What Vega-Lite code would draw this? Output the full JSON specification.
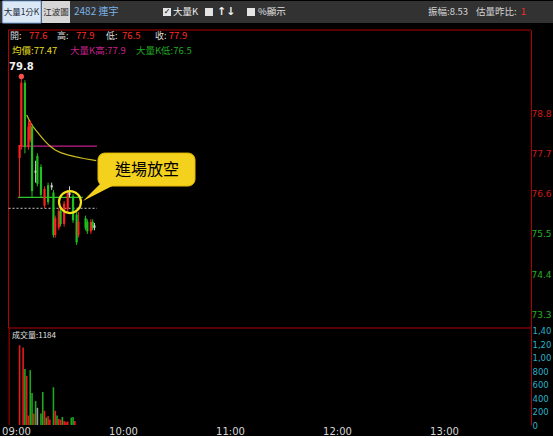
{
  "$schema": "https://vega.github.io/schema/vega-lite/v6.json",
  "background": "#000000",
  "padding": 0,
  "bounds": "flush",
  "spacing": 7,
  "data": {"values": [{}]},
  "config": {
    "view": {"stroke": null},
    "font": "Noto Sans CJK TC",
    "axis": {"grid": false, "labelFont": "DejaVu Sans", "labelOverlap": false}
  },
  "datasets": {
    "candles": [
      {"t": "2020-01-02T09:02", "o": 77.6, "h": 77.9, "l": 76.5, "c": 77.9},
      {"t": "2020-01-02T09:03", "o": 77.9, "h": 79.8, "l": 77.8, "c": 79.6},
      {"t": "2020-01-02T09:05", "o": 79.6, "h": 79.7, "l": 77.7, "c": 77.9},
      {"t": "2020-01-02T09:07", "o": 77.9, "h": 78.6, "l": 77.8, "c": 78.4},
      {"t": "2020-01-02T09:08", "o": 78.1, "h": 78.6, "l": 78.0, "c": 78.5},
      {"t": "2020-01-02T09:09", "o": 78.4, "h": 78.5, "l": 76.5, "c": 76.7},
      {"t": "2020-01-02T09:11", "o": 77.2, "h": 77.5, "l": 76.9, "c": 77.2},
      {"t": "2020-01-02T09:12", "o": 77.6, "h": 77.7, "l": 76.8, "c": 76.9},
      {"t": "2020-01-02T09:14", "o": 77.3, "h": 77.4, "l": 76.5, "c": 76.6},
      {"t": "2020-01-02T09:16", "o": 76.3, "h": 76.8, "l": 76.2, "c": 76.7},
      {"t": "2020-01-02T09:18", "o": 76.8, "h": 76.9, "l": 76.3, "c": 76.4},
      {"t": "2020-01-02T09:20", "o": 76.8, "h": 76.9, "l": 76.7, "c": 76.8},
      {"t": "2020-01-02T09:21", "o": 76.6, "h": 76.7, "l": 75.4, "c": 75.5},
      {"t": "2020-01-02T09:22", "o": 75.5, "h": 76.0, "l": 75.4, "c": 75.9},
      {"t": "2020-01-02T09:24", "o": 75.7, "h": 76.2, "l": 75.6, "c": 76.1},
      {"t": "2020-01-02T09:25", "o": 76.1, "h": 76.2, "l": 75.7, "c": 75.8},
      {"t": "2020-01-02T09:27", "o": 75.8, "h": 76.4, "l": 75.7, "c": 76.3},
      {"t": "2020-01-02T09:29", "o": 76.2, "h": 76.7, "l": 76.1, "c": 76.6},
      {"t": "2020-01-02T09:30", "o": 76.6, "h": 76.8, "l": 76.5, "c": 76.6},
      {"t": "2020-01-02T09:32", "o": 76.5, "h": 76.6, "l": 75.8, "c": 75.9},
      {"t": "2020-01-02T09:34", "o": 76.0, "h": 76.1, "l": 75.2, "c": 75.3},
      {"t": "2020-01-02T09:35", "o": 75.5, "h": 76.1, "l": 75.4, "c": 75.8},
      {"t": "2020-01-02T09:39", "o": 75.9, "h": 76.0, "l": 75.6, "c": 75.7},
      {"t": "2020-01-02T09:40", "o": 75.8, "h": 75.9, "l": 75.5, "c": 75.6},
      {"t": "2020-01-02T09:42", "o": 75.6, "h": 75.9, "l": 75.5, "c": 75.8},
      {"t": "2020-01-02T09:43", "o": 75.8, "h": 75.9, "l": 75.6, "c": 75.7},
      {"t": "2020-01-02T09:44", "o": 75.7, "h": 75.8, "l": 75.6, "c": 75.7}
    ],
    "vol": [
      {"t": "2020-01-02T09:02", "v": 1184, "dir": "up"},
      {"t": "2020-01-02T09:04", "v": 1150, "dir": "up"},
      {"t": "2020-01-02T09:05", "v": 830, "dir": "down"},
      {"t": "2020-01-02T09:06", "v": 730, "dir": "up"},
      {"t": "2020-01-02T09:07", "v": 140, "dir": "up"},
      {"t": "2020-01-02T09:08", "v": 815, "dir": "down"},
      {"t": "2020-01-02T09:09", "v": 475, "dir": "down"},
      {"t": "2020-01-02T09:10", "v": 170, "dir": "up"},
      {"t": "2020-01-02T09:11", "v": 355, "dir": "down"},
      {"t": "2020-01-02T09:12", "v": 255, "dir": "flat"},
      {"t": "2020-01-02T09:14", "v": 170, "dir": "down"},
      {"t": "2020-01-02T09:15", "v": 490, "dir": "down"},
      {"t": "2020-01-02T09:16", "v": 210, "dir": "up"},
      {"t": "2020-01-02T09:17", "v": 110, "dir": "down"},
      {"t": "2020-01-02T09:18", "v": 130, "dir": "up"},
      {"t": "2020-01-02T09:19", "v": 80, "dir": "up"},
      {"t": "2020-01-02T09:21", "v": 560, "dir": "down"},
      {"t": "2020-01-02T09:22", "v": 210, "dir": "up"},
      {"t": "2020-01-02T09:23", "v": 140, "dir": "down"},
      {"t": "2020-01-02T09:24", "v": 90, "dir": "up"},
      {"t": "2020-01-02T09:25", "v": 80, "dir": "up"},
      {"t": "2020-01-02T09:26", "v": 120, "dir": "down"},
      {"t": "2020-01-02T09:27", "v": 60, "dir": "up"},
      {"t": "2020-01-02T09:28", "v": 50, "dir": "up"},
      {"t": "2020-01-02T09:29", "v": 50, "dir": "up"},
      {"t": "2020-01-02T09:31", "v": 110, "dir": "down"},
      {"t": "2020-01-02T09:32", "v": 120, "dir": "down"},
      {"t": "2020-01-02T09:33", "v": 60, "dir": "up"}
    ],
    "avg": [
      {"t": "2020-01-02T09:06", "p": 78.75},
      {"t": "2020-01-02T09:08", "p": 78.55},
      {"t": "2020-01-02T09:10", "p": 78.4},
      {"t": "2020-01-02T09:13", "p": 78.22},
      {"t": "2020-01-02T09:16", "p": 78.05},
      {"t": "2020-01-02T09:19", "p": 77.9},
      {"t": "2020-01-02T09:22", "p": 77.79},
      {"t": "2020-01-02T09:25", "p": 77.72},
      {"t": "2020-01-02T09:29", "p": 77.66},
      {"t": "2020-01-02T09:33", "p": 77.61},
      {"t": "2020-01-02T09:38", "p": 77.56},
      {"t": "2020-01-02T09:45", "p": 77.5}
    ],
    "quote": [
      {"k": "開", "v": 77.6},
      {"k": "高", "v": 77.9},
      {"k": "低", "v": 76.5},
      {"k": "收", "v": 77.9},
      {"k": "均價", "v": 77.47},
      {"k": "大量K高", "v": 77.9},
      {"k": "大量K低", "v": 76.5}
    ]
  },
  "vconcat": [
    {
      "width": 553,
      "height": 22,
      "view": {"fill": "#323232", "stroke": null},
      "layer": [
        {
          "mark": {"type": "rect", "fill": "#dbe8f6", "stroke": "#7aa6d8", "strokeWidth": 1},
          "encoding": {
            "x": {"datum": {"year": 2020, "month": 1, "date": 2, "hours": 8, "minutes": 52, "seconds": 30}, "type": "temporal", "scale": {"domain": [{"year": 2020, "month": 1, "date": 2, "hours": 8, "minutes": 51, "seconds": 2}, {"year": 2020, "month": 1, "date": 2, "hours": 14, "minutes": 1, "seconds": 8}]}, "axis": null},
            "x2": {"datum": {"year": 2020, "month": 1, "date": 2, "hours": 9, "minutes": 14, "seconds": 1}}
          }
        },
        {
          "mark": {"type": "rect", "fill": "#d6d6d6"},
          "encoding": {
            "x": {"datum": {"year": 2020, "month": 1, "date": 2, "hours": 9, "minutes": 14, "seconds": 35}, "type": "temporal", "axis": null},
            "x2": {"datum": {"year": 2020, "month": 1, "date": 2, "hours": 9, "minutes": 30, "seconds": 17}}
          }
        },
        {
          "mark": {"type": "text", "text": "大量1分K", "align": "center", "fontSize": 8.5, "color": "#1d2b3b"},
          "encoding": {"x": {"datum": {"year": 2020, "month": 1, "date": 2, "hours": 9, "minutes": 3, "seconds": 5}, "type": "temporal", "axis": null}}
        },
        {
          "mark": {"type": "text", "text": "江波圖", "align": "center", "fontSize": 8.5, "color": "#2a2a2a"},
          "encoding": {"x": {"datum": {"year": 2020, "month": 1, "date": 2, "hours": 9, "minutes": 22, "seconds": 26}, "type": "temporal", "axis": null}}
        },
        {
          "mark": {"type": "text", "text": "2482 連宇", "align": "left", "fontSize": 10, "color": "#7ab2e8"},
          "encoding": {"x": {"datum": {"year": 2020, "month": 1, "date": 2, "hours": 9, "minutes": 32, "seconds": 31}, "type": "temporal", "axis": null}}
        },
        {
          "mark": {"type": "point", "shape": "square", "filled": true, "size": 64, "color": "#e4e4e4", "opacity": 1},
          "encoding": {"x": {"datum": {"year": 2020, "month": 1, "date": 2, "hours": 10, "minutes": 24, "seconds": 40}, "type": "temporal", "axis": null}}
        },
        {
          "mark": {"type": "text", "text": "✓", "align": "center", "fontSize": 8, "fontWeight": "bold", "color": "#000000", "font": "DejaVu Sans"},
          "encoding": {"x": {"datum": {"year": 2020, "month": 1, "date": 2, "hours": 10, "minutes": 24, "seconds": 40}, "type": "temporal", "axis": null}}
        },
        {
          "mark": {"type": "text", "text": "大量K", "align": "left", "fontSize": 9.5, "color": "#f0f0f0"},
          "encoding": {"x": {"datum": {"year": 2020, "month": 1, "date": 2, "hours": 10, "minutes": 28, "seconds": 2}, "type": "temporal", "axis": null}}
        },
        {
          "mark": {"type": "point", "shape": "square", "filled": true, "size": 64, "color": "#e4e4e4", "opacity": 1},
          "encoding": {"x": {"datum": {"year": 2020, "month": 1, "date": 2, "hours": 10, "minutes": 48, "seconds": 13}, "type": "temporal", "axis": null}}
        },
        {
          "mark": {"type": "text", "text": "↑↓", "align": "left", "fontSize": 11, "fontWeight": "bold", "color": "#f0f0f0", "font": "DejaVu Sans"},
          "encoding": {"x": {"datum": {"year": 2020, "month": 1, "date": 2, "hours": 10, "minutes": 52, "seconds": 43}, "type": "temporal", "axis": null}}
        },
        {
          "mark": {"type": "point", "shape": "square", "filled": true, "size": 64, "color": "#e4e4e4", "opacity": 1},
          "encoding": {"x": {"datum": {"year": 2020, "month": 1, "date": 2, "hours": 11, "minutes": 11, "seconds": 47}, "type": "temporal", "axis": null}}
        },
        {
          "mark": {"type": "text", "text": "%顯示", "align": "left", "fontSize": 9.5, "color": "#e0e0e0"},
          "encoding": {"x": {"datum": {"year": 2020, "month": 1, "date": 2, "hours": 11, "minutes": 15, "seconds": 42}, "type": "temporal", "axis": null}}
        },
        {
          "mark": {"type": "text", "text": "振幅:8.53", "align": "left", "fontSize": 9.5, "color": "#d4d4d4"},
          "encoding": {"x": {"datum": {"year": 2020, "month": 1, "date": 2, "hours": 12, "minutes": 51, "seconds": 2}, "type": "temporal", "axis": null}}
        },
        {
          "mark": {"type": "text", "text": "估量昨比:", "align": "left", "fontSize": 9.5, "color": "#d4d4d4"},
          "encoding": {"x": {"datum": {"year": 2020, "month": 1, "date": 2, "hours": 13, "minutes": 18, "seconds": 0}, "type": "temporal", "axis": null}}
        },
        {
          "mark": {"type": "text", "text": "1", "align": "left", "fontSize": 9.5, "color": "#ff2a2a"},
          "encoding": {"x": {"datum": {"year": 2020, "month": 1, "date": 2, "hours": 13, "minutes": 43, "seconds": 0}, "type": "temporal", "axis": null}}
        }
      ]
    },
    {
      "spacing": 0,
      "bounds": "flush",
      "vconcat": [
        {
          "width": 531,
          "height": 298,
          "layer": [
            {
              "mark": {"type": "rule", "color": "#b40000", "strokeWidth": 1},
              "encoding": {
                "x": {"datum": {"year": 2020, "month": 1, "date": 2, "hours": 8, "minutes": 55, "seconds": 48}, "type": "temporal", "scale": {"domain": [{"year": 2020, "month": 1, "date": 2, "hours": 8, "minutes": 51, "seconds": 2}, {"year": 2020, "month": 1, "date": 2, "hours": 13, "minutes": 48, "seconds": 47}]}, "axis": null},
                "x2": {"datum": {"year": 2020, "month": 1, "date": 2, "hours": 13, "minutes": 48, "seconds": 47}},
                "y": {
                  "datum": 81.07,
                  "type": "quantitative",
                  "scale": {"domain": [72.93, 81.07], "nice": false, "zero": false},
                  "axis": {
                    "orient": "right",
                    "values": [73.3, 74.4, 75.5, 76.6, 77.7, 78.8],
                    "format": ".1f",
                    "title": null,
                    "ticks": false,
                    "domainColor": "#b40000",
                    "labelFontSize": 9,
                    "labelPadding": 0,
                    "labelFlush": false,
                    "labelColor": {"condition": {"test": "datum.value > 76.2", "value": "#d01818"}, "value": "#22b022"}
                  }
                }
              }
            },
            {
              "mark": {"type": "rule", "color": "#b40000", "strokeWidth": 1},
              "encoding": {
                "x": {"datum": {"year": 2020, "month": 1, "date": 2, "hours": 8, "minutes": 55, "seconds": 48}, "type": "temporal", "axis": null},
                "x2": {"datum": {"year": 2020, "month": 1, "date": 2, "hours": 13, "minutes": 48, "seconds": 47}},
                "y": {"datum": 72.93, "type": "quantitative"}
              }
            },
            {
              "mark": {"type": "rule", "color": "#b40000", "strokeWidth": 1},
              "encoding": {
                "x": {"datum": {"year": 2020, "month": 1, "date": 2, "hours": 8, "minutes": 55, "seconds": 48}, "type": "temporal", "axis": null},
                "y": {"datum": 72.93, "type": "quantitative"},
                "y2": {"datum": 81.07}
              }
            },
            {
              "mark": {"type": "rule", "color": "#c8c8c8", "strokeWidth": 1, "strokeDash": [2, 2]},
              "encoding": {
                "x": {"datum": {"year": 2020, "month": 1, "date": 2, "hours": 8, "minutes": 55, "seconds": 48}, "type": "temporal", "axis": null},
                "x2": {"datum": {"year": 2020, "month": 1, "date": 2, "hours": 9, "minutes": 45, "seconds": 25}},
                "y": {"datum": 76.2, "type": "quantitative"}
              }
            },
            {
              "mark": {"type": "rule", "color": "#c2208c", "strokeWidth": 1.2},
              "encoding": {
                "x": {"datum": {"year": 2020, "month": 1, "date": 2, "hours": 9, "minutes": 2, "seconds": 15}, "type": "temporal", "axis": null},
                "x2": {"datum": {"year": 2020, "month": 1, "date": 2, "hours": 9, "minutes": 45, "seconds": 25}},
                "y": {"datum": 77.9, "type": "quantitative"}
              }
            },
            {
              "mark": {"type": "rule", "color": "#2ec82e", "strokeWidth": 1.2},
              "encoding": {
                "x": {"datum": {"year": 2020, "month": 1, "date": 2, "hours": 9, "minutes": 1, "seconds": 7}, "type": "temporal", "axis": null},
                "x2": {"datum": {"year": 2020, "month": 1, "date": 2, "hours": 9, "minutes": 37, "seconds": 30}},
                "y": {"datum": 76.5, "type": "quantitative"}
              }
            },
            {
              "data": {"name": "avg"},
              "mark": {"type": "line", "color": "#cdbf1d", "strokeWidth": 1.2},
              "encoding": {
                "x": {"field": "t", "type": "temporal", "axis": null},
                "y": {"field": "p", "type": "quantitative"}
              }
            },
            {
              "data": {"name": "candles"},
              "mark": {"type": "rule", "strokeWidth": 1},
              "encoding": {
                "x": {"field": "t", "type": "temporal", "axis": null},
                "y": {"field": "l", "type": "quantitative"},
                "y2": {"field": "h"},
                "color": {"condition": [{"test": "datum.c > datum.o", "value": "#ff2020"}, {"test": "datum.c < datum.o", "value": "#1fc01f"}], "value": "#d0d0d0"}
              }
            },
            {
              "data": {"name": "candles"},
              "mark": {"type": "rule", "strokeWidth": 2.2, "strokeCap": "square"},
              "encoding": {
                "x": {"field": "t", "type": "temporal", "axis": null},
                "y": {"field": "o", "type": "quantitative"},
                "y2": {"field": "c"},
                "color": {"condition": [{"test": "datum.c > datum.o", "value": "#ff2020"}, {"test": "datum.c < datum.o", "value": "#1fc01f"}], "value": "#d0d0d0"}
              }
            },
            {
              "data": {"name": "candles"},
              "transform": [{"joinaggregate": [{"op": "max", "field": "h", "as": "hmax"}]}, {"filter": "datum.h == datum.hmax"}],
              "mark": {"type": "point", "filled": true, "color": "#ff5050", "size": 28, "opacity": 1},
              "encoding": {
                "x": {"field": "t", "type": "temporal", "axis": null},
                "y": {"field": "h", "type": "quantitative"}
              }
            },
            {
              "data": {"name": "candles"},
              "transform": [{"joinaggregate": [{"op": "max", "field": "h", "as": "hmax"}]}, {"filter": "datum.h == datum.hmax"}],
              "mark": {"type": "text", "color": "#f0f0f0", "fontWeight": "bold", "fontSize": 10, "dy": -9, "font": "DejaVu Sans"},
              "encoding": {
                "x": {"field": "t", "type": "temporal", "axis": null},
                "y": {"field": "h", "type": "quantitative"},
                "text": {"field": "h", "format": ".1f"}
              }
            },
            {
              "mark": {"type": "point", "shape": "circle", "filled": false, "size": 484, "stroke": "#f2e21c", "strokeWidth": 2.2, "opacity": 1},
              "encoding": {
                "x": {"datum": {"year": 2020, "month": 1, "date": 2, "hours": 9, "minutes": 30, "seconds": 17}, "type": "temporal", "axis": null},
                "y": {"datum": 76.37, "type": "quantitative"}
              }
            },
            {
              "mark": {"type": "rect", "fill": "#f4d11d", "stroke": "#e2b800", "strokeWidth": 1, "cornerRadius": 7},
              "encoding": {
                "x": {"datum": {"year": 2020, "month": 1, "date": 2, "hours": 9, "minutes": 45, "seconds": 59}, "type": "temporal", "axis": null},
                "x2": {"datum": {"year": 2020, "month": 1, "date": 2, "hours": 10, "minutes": 40, "seconds": 23}},
                "y": {"datum": 77.708, "type": "quantitative"},
                "y2": {"datum": 76.808}
              }
            },
            {
              "mark": {"type": "point", "shape": "M-0.68,0.4L0.08,-0.36L0.8,-0.36Z", "filled": true, "color": "#f4d11d", "size": 2500, "opacity": 1, "strokeWidth": 0},
              "encoding": {
                "x": {"datum": {"year": 2020, "month": 1, "date": 2, "hours": 9, "minutes": 47, "seconds": 6}, "type": "temporal", "axis": null},
                "y": {"datum": 76.671, "type": "quantitative"}
              }
            },
            {
              "mark": {"type": "text", "text": "進場放空", "fontSize": 16, "color": "#000000", "align": "center"},
              "encoding": {
                "x": {"datum": {"year": 2020, "month": 1, "date": 2, "hours": 10, "minutes": 13, "seconds": 28}, "type": "temporal", "axis": null},
                "y": {"datum": 77.244, "type": "quantitative"}
              }
            },
            {
              "mark": {"type": "text", "text": "開:", "align": "left", "fontSize": 9, "color": "#dcdcdc"},
              "encoding": {
                "x": {"datum": {"year": 2020, "month": 1, "date": 2, "hours": 8, "minutes": 56, "seconds": 38}, "type": "temporal", "axis": null},
                "y": {"datum": 80.9, "type": "quantitative"}
              }
            },
            {
              "mark": {"type": "text", "text": "高:", "align": "left", "fontSize": 9, "color": "#dcdcdc"},
              "encoding": {
                "x": {"datum": {"year": 2020, "month": 1, "date": 2, "hours": 9, "minutes": 22, "seconds": 59}, "type": "temporal", "axis": null},
                "y": {"datum": 80.9, "type": "quantitative"}
              }
            },
            {
              "mark": {"type": "text", "text": "低:", "align": "left", "fontSize": 9, "color": "#dcdcdc"},
              "encoding": {
                "x": {"datum": {"year": 2020, "month": 1, "date": 2, "hours": 9, "minutes": 50, "seconds": 28}, "type": "temporal", "axis": null},
                "y": {"datum": 80.9, "type": "quantitative"}
              }
            },
            {
              "mark": {"type": "text", "text": "收:", "align": "left", "fontSize": 9, "color": "#dcdcdc"},
              "encoding": {
                "x": {"datum": {"year": 2020, "month": 1, "date": 2, "hours": 10, "minutes": 17, "seconds": 57}, "type": "temporal", "axis": null},
                "y": {"datum": 80.9, "type": "quantitative"}
              }
            },
            {
              "data": {"name": "quote"},
              "transform": [{"filter": "datum.k == '開'"}],
              "mark": {"type": "text", "align": "left", "fontSize": 9.5, "color": "#ff2a2a"},
              "encoding": {
                "x": {"datum": {"year": 2020, "month": 1, "date": 2, "hours": 9, "minutes": 7, "seconds": 20}, "type": "temporal", "axis": null},
                "y": {"datum": 80.9, "type": "quantitative"},
                "text": {"field": "v", "format": ".1f"}
              }
            },
            {
              "data": {"name": "quote"},
              "transform": [{"filter": "datum.k == '高'"}],
              "mark": {"type": "text", "align": "left", "fontSize": 9.5, "color": "#ff2a2a"},
              "encoding": {
                "x": {"datum": {"year": 2020, "month": 1, "date": 2, "hours": 9, "minutes": 33, "seconds": 40}, "type": "temporal", "axis": null},
                "y": {"datum": 80.9, "type": "quantitative"},
                "text": {"field": "v", "format": ".1f"}
              }
            },
            {
              "data": {"name": "quote"},
              "transform": [{"filter": "datum.k == '低'"}],
              "mark": {"type": "text", "align": "left", "fontSize": 9.5, "color": "#ff2a2a"},
              "encoding": {
                "x": {"datum": {"year": 2020, "month": 1, "date": 2, "hours": 9, "minutes": 59, "seconds": 30}, "type": "temporal", "axis": null},
                "y": {"datum": 80.9, "type": "quantitative"},
                "text": {"field": "v", "format": ".1f"}
              }
            },
            {
              "data": {"name": "quote"},
              "transform": [{"filter": "datum.k == '收'"}],
              "mark": {"type": "text", "align": "left", "fontSize": 9.5, "color": "#ff2a2a"},
              "encoding": {
                "x": {"datum": {"year": 2020, "month": 1, "date": 2, "hours": 10, "minutes": 25, "seconds": 40}, "type": "temporal", "axis": null},
                "y": {"datum": 80.9, "type": "quantitative"},
                "text": {"field": "v", "format": ".1f"}
              }
            },
            {
              "data": {"name": "quote"},
              "transform": [{"filter": "datum.k == '均價'"}, {"calculate": "datum.k + ':' + datum.v", "as": "lab"}],
              "mark": {"type": "text", "align": "left", "fontSize": 9.5, "color": "#e6de1e"},
              "encoding": {
                "x": {"datum": {"year": 2020, "month": 1, "date": 2, "hours": 8, "minutes": 57, "seconds": 46}, "type": "temporal", "axis": null},
                "y": {"datum": 80.5, "type": "quantitative"},
                "text": {"field": "lab"}
              }
            },
            {
              "data": {"name": "quote"},
              "transform": [{"filter": "datum.k == '大量K高'"}, {"calculate": "datum.k + ':' + datum.v", "as": "lab"}],
              "mark": {"type": "text", "align": "left", "fontSize": 9.5, "color": "#c4228c"},
              "encoding": {
                "x": {"datum": {"year": 2020, "month": 1, "date": 2, "hours": 9, "minutes": 30, "seconds": 17}, "type": "temporal", "axis": null},
                "y": {"datum": 80.5, "type": "quantitative"},
                "text": {"field": "lab"}
              }
            },
            {
              "data": {"name": "quote"},
              "transform": [{"filter": "datum.k == '大量K低'"}, {"calculate": "datum.k + ':' + datum.v", "as": "lab"}],
              "mark": {"type": "text", "align": "left", "fontSize": 9.5, "color": "#22a822"},
              "encoding": {
                "x": {"datum": {"year": 2020, "month": 1, "date": 2, "hours": 10, "minutes": 7, "seconds": 17}, "type": "temporal", "axis": null},
                "y": {"datum": 80.5, "type": "quantitative"},
                "text": {"field": "lab"}
              }
            }
          ]
        },
        {
          "width": 531,
          "height": 97,
          "title": {"text": "成交量:1184", "anchor": "start", "orient": "top", "offset": -13, "dx": 12, "fontSize": 8, "fontWeight": "normal", "color": "#e0e0e0", "font": "Noto Sans CJK TC"},
          "layer": [
            {
              "data": {"name": "vol"},
              "mark": {"type": "rule", "strokeWidth": 1.6},
              "encoding": {
                "x": {
                  "field": "t",
                  "type": "temporal",
                  "scale": {"domain": [{"year": 2020, "month": 1, "date": 2, "hours": 8, "minutes": 51, "seconds": 2}, {"year": 2020, "month": 1, "date": 2, "hours": 13, "minutes": 48, "seconds": 47}]},
                  "axis": {
                    "values": [
                      {"year": 2020, "month": 1, "date": 2, "hours": 9},
                      {"year": 2020, "month": 1, "date": 2, "hours": 10},
                      {"year": 2020, "month": 1, "date": 2, "hours": 11},
                      {"year": 2020, "month": 1, "date": 2, "hours": 12},
                      {"year": 2020, "month": 1, "date": 2, "hours": 13}
                    ],
                    "format": "%H:%M",
                    "title": null,
                    "domain": false,
                    "ticks": false,
                    "labelColor": "#d6d6d6",
                    "labelFontSize": 10,
                    "labelPadding": 1,
                    "labelFlush": false,
                    "labelOverlap": false
                  }
                },
                "y": {
                  "field": "v",
                  "type": "quantitative",
                  "scale": {"domain": [0, 1440], "nice": false},
                  "axis": {
                    "orient": "right",
                    "tickCount": 8,
                    "labelExpr": "datum.value >= 1000 ? slice(format(datum.value, ','), 0, 4) : format(datum.value, ',')",
                    "title": null,
                    "ticks": false,
                    "domainColor": "#b40000",
                    "labelColor": "#2ab0c8",
                    "labelFontSize": 8.5,
                    "labelPadding": 1,
                    "labelFlush": false,
                    "labelOverlap": false
                  }
                },
                "y2": {"datum": 0},
                "color": {"field": "dir", "type": "nominal", "scale": {"domain": ["up", "down", "flat"], "range": ["#e81c1c", "#1ea81e", "#9a9a9a"]}, "legend": null}
              }
            },
            {
              "mark": {"type": "rule", "color": "#b40000", "strokeWidth": 1},
              "encoding": {
                "x": {"datum": {"year": 2020, "month": 1, "date": 2, "hours": 8, "minutes": 56, "seconds": 10}, "type": "temporal"}
              }
            }
          ]
        }
      ]
    }
  ]
}
